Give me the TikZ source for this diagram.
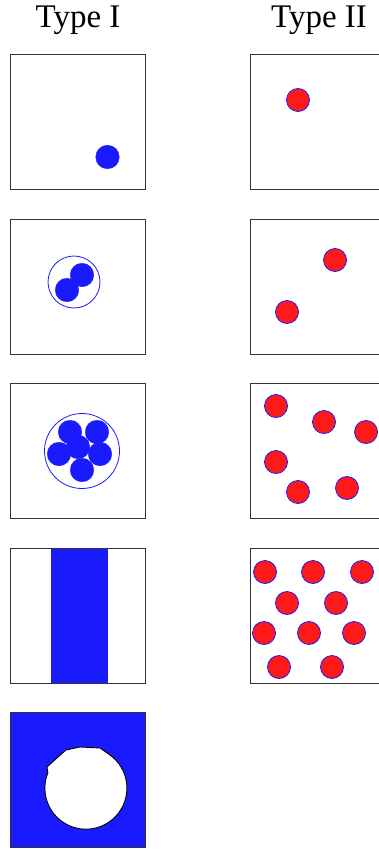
\documentclass[tikz,border=0pt]{standalone}
\usepackage{fontspec}
\setmainfont{Liberation Serif}
\usepackage{xcolor}
\definecolor{phaseblue}{HTML}{1A1AFF}
\definecolor{phasered}{HTML}{FF1A1A}
\definecolor{frame}{HTML}{333333}
\tikzset{
  panel/.style={draw=frame,line width=0.9pt},
  grain/.style={fill=phaseblue,draw=phaseblue,line width=0.3pt},
  drop/.style={fill=phasered,draw=phaseblue,line width=0.8pt},
  shell/.style={draw=phaseblue,line width=0.8pt},
  heading/.style={font=\fontsize{33}{38}\selectfont,anchor=base}
}
\begin{document}
\begin{tikzpicture}[x=1pt,y=-1pt]
    \path[use as bounding box] (0,0) rectangle (378,850);
    \node[heading] (typeI) at (78,28) {Type I};
    \node[heading] (typeII) at (319,28) {Type II};
    % row 1
    \draw[panel] (10,54) rectangle (145,189);
    \draw[grain] (107.5,157) circle (11.8);
    \draw[panel] (250,54) rectangle (385,189);
    \draw[drop] (298,100) circle (11.5);
    % row 2
    \draw[panel] (10,219) rectangle (145,354);
    \draw[shell] (74,282) circle (26);
    \draw[grain] (82,275) circle (11.8);
    \draw[grain] (67,290) circle (11.8);
    \draw[panel] (250,219) rectangle (385,354);
    \foreach \cx/\cy in {335/260, 287/312}
      \draw[drop] (\cx,\cy) circle (11.5);
    % row 3
    \draw[panel] (10,383) rectangle (145,518);
    \draw[shell] (82,451) circle (37.5);
    \foreach \cx/\cy in {78/447, 70/432, 97/432, 59/454, 100/454, 82/470}
      \draw[grain] (\cx,\cy) circle (11.8);
    \draw[panel] (250,383) rectangle (385,518);
    \foreach \cx/\cy in {276/406, 324/422, 366/432, 276/462, 298/492, 347/488}
      \draw[drop] (\cx,\cy) circle (11.5);
    % row 4
    \fill[phaseblue] (51,548) rectangle (108,683);
    \draw[panel] (10,548) rectangle (145,683);
    \draw[panel] (250,548) rectangle (385,683);
    \foreach \cx/\cy in {265/572, 313/572, 362/572, 287/603, 336/603,
                         264/633, 309/633, 354/633, 279/667, 332/667}
      \draw[drop] (\cx,\cy) circle (11.5);
    % row 5
    \fill[phaseblue] (10,712) rectangle (145,847);
    \draw[fill=white,line width=0.9pt]
      (110,755) arc[start angle=-54,end angle=202,radius=41]
      -- (47,767) -- (58,757) -- (66,750) -- (80,747) -- (100,748) -- cycle;
    \draw[panel] (10,712) rectangle (145,847);
\end{tikzpicture}
\end{document}
